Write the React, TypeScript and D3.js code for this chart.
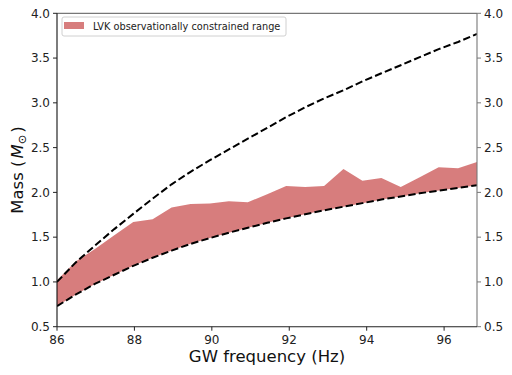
import React from 'react';
import * as d3 from 'd3';

// GW frequency grid (Hz)
const freq = [86.0, 86.49, 86.99, 87.48, 87.97, 88.47, 88.96, 89.45, 89.95, 90.44, 90.93, 91.43, 91.92, 92.41, 92.9, 93.4, 93.89, 94.38, 94.88, 95.37, 95.86, 96.36, 96.85];
// upper dashed limit (M_sun)
const upperLimit = [1.0, 1.22, 1.41, 1.59, 1.76, 1.93, 2.09, 2.23, 2.36, 2.48, 2.6, 2.72, 2.84, 2.95, 3.05, 3.14, 3.24, 3.33, 3.42, 3.51, 3.6, 3.68, 3.77];
// lower dashed limit (M_sun)
const lowerLimit = [0.73, 0.86, 0.98, 1.08, 1.18, 1.27, 1.35, 1.425, 1.49, 1.55, 1.605, 1.66, 1.71, 1.755, 1.8, 1.84, 1.88, 1.92, 1.955, 1.99, 2.02, 2.05, 2.08];
// LVK observational band
const bandLow = [0.73, 0.86, 0.98, 1.08, 1.18, 1.27, 1.35, 1.425, 1.49, 1.55, 1.605, 1.66, 1.71, 1.755, 1.8, 1.84, 1.88, 1.92, 1.955, 1.99, 2.02, 2.05, 2.08];
const bandHigh = [1.02, 1.23, 1.37, 1.52, 1.67, 1.7, 1.83, 1.87, 1.875, 1.9, 1.89, 1.98, 2.07, 2.06, 2.07, 2.26, 2.13, 2.16, 2.06, 2.17, 2.28, 2.27, 2.34];

const xTicks = [86, 88, 90, 92, 94, 96];
const yTicks = [0.5, 1.0, 1.5, 2.0, 2.5, 3.0, 3.5, 4.0];
const legendLabel = 'LVK observationally constrained range';

const FONT = 'DejaVu Sans';

export default function App() {
  const W = 512, H = 375;
  const L = 57, R = 477, T = 13.3, B = 326.7;
  const x = d3.scaleLinear().domain([86, 96.85]).range([L, R]);
  const y = d3.scaleLinear().domain([0.5, 4.0]).range([B, T]);

  const idx = freq.map((_, i) => i);
  const area = d3.area<number>()
    .x(i => x(freq[i]))
    .y0(i => y(bandLow[i]))
    .y1(i => y(bandHigh[i]));
  const upLine = d3.line<number>().x(i => x(freq[i])).y(i => y(upperLimit[i]));
  const loLine = d3.line<number>().x(i => x(freq[i])).y(i => y(lowerLimit[i]));

  return (
    <svg width={W} height={H} style={{ position: 'absolute', left: 0, top: 0, background: '#fff' }} fontFamily={FONT}>
      <defs>
        <clipPath id="plotclip">
          <rect x={L} y={T} width={R - L} height={B - T} />
        </clipPath>
      </defs>
      <g clipPath="url(#plotclip)">
        <path d={area(idx) || ''} fill="#cd5c5c" fillOpacity={0.8} stroke="none" />
        <path d={upLine(idx) || ''} fill="none" stroke="#000" strokeWidth={2} strokeDasharray="7.4,3.2" />
        <path d={loLine(idx) || ''} fill="none" stroke="#000" strokeWidth={2} strokeDasharray="7.4,3.2" />
      </g>

      {/* spines */}
      <line x1={L} x2={R} y1={T} y2={T} stroke="#555" strokeWidth={1} />
      <line x1={R} x2={R} y1={T} y2={B} stroke="#777" strokeWidth={1.1} />
      <line x1={L} x2={L} y1={T} y2={B} stroke="#111" strokeWidth={1.1} />
      <line x1={L} x2={R} y1={B} y2={B} stroke="#222" strokeWidth={1.1} />

      {/* x ticks */}
      {xTicks.map(t => (
        <g key={'x' + t}>
          <line x1={x(t)} x2={x(t)} y1={B} y2={B + 4} stroke="#222" strokeWidth={1} />
          <text x={x(t)} y={B + 17} fontSize={12} textAnchor="middle" fill="#222">{t}</text>
        </g>
      ))}
      {/* y ticks left */}
      {yTicks.map(t => (
        <g key={'yl' + t}>
          <line x1={L - 4} x2={L} y1={y(t)} y2={y(t)} stroke="#222" strokeWidth={1} />
          <text x={L - 7} y={y(t) + 4.3} fontSize={12} textAnchor="end" fill="#222">{t.toFixed(1)}</text>
        </g>
      ))}
      {/* y ticks right */}
      {yTicks.map(t => (
        <g key={'yr' + t}>
          <line x1={R} x2={R + 4} y1={y(t)} y2={y(t)} stroke="#777" strokeWidth={1} />
          <text x={R + 7} y={y(t) + 4.3} fontSize={12} textAnchor="start" fill="#222">{t.toFixed(1)}</text>
        </g>
      ))}

      {/* axis labels */}
      <text x={(L + R) / 2} y={362} fontSize={16.5} textAnchor="middle" fill="#111">GW frequency (Hz)</text>
      <text transform={`translate(23, ${(T + B) / 2}) rotate(-90)`} fontSize={16.5} textAnchor="middle" fill="#111">
        Mass (<tspan fontStyle="italic" dx={2}>M</tspan><tspan fontSize={11.5} dy={3}>⊙</tspan><tspan dy={-3} dx={2}>)</tspan>
      </text>

      {/* legend */}
      <g>
        <rect x={62} y={17} width={224} height={19} rx={2} fill="#fff" fillOpacity={0.8} stroke="#d0d0d0" strokeWidth={1} />
        <rect x={64} y={22} width={20} height={7} fill="#cd5c5c" fillOpacity={0.8} />
        <text x={93} y={29.5} fontSize={9.75} fill="#222">{legendLabel}</text>
      </g>
    </svg>
  );
}
